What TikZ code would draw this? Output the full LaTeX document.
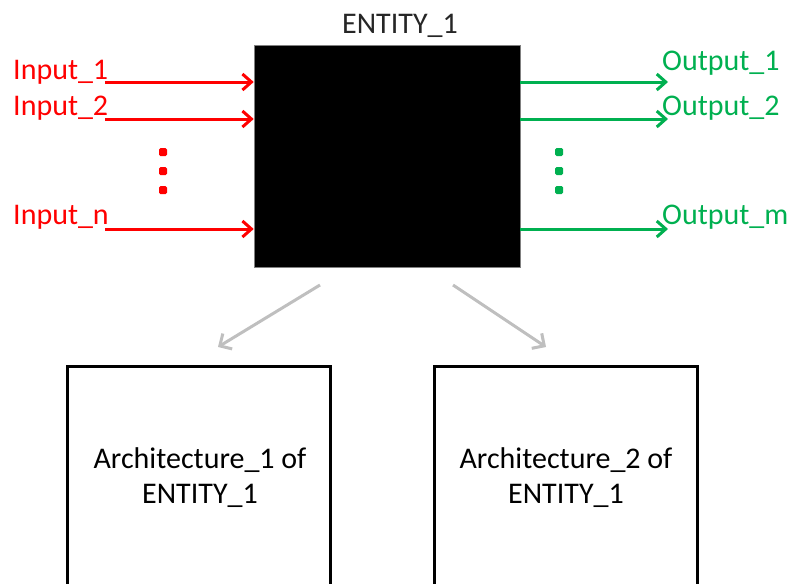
\documentclass[tikz,border=0pt]{standalone}
\usepackage{fontspec}
\setmainfont{Carlito}
\usetikzlibrary{arrows.meta}
\definecolor{inred}{RGB}{255,0,0}
\definecolor{outgreen}{RGB}{0,176,80}
\definecolor{archgray}{RGB}{191,191,191}
\tikzset{
  x=1pt, y=-1pt,
  lbl/.style={inner sep=0pt, font=\fontsize{30}{35}\selectfont},
  inarrow/.style={draw=inred, line width=3pt, -{Straight Barb[length=9pt,width=16pt,line width=3pt]}},
  outarrow/.style={draw=outgreen, line width=3pt, -{Straight Barb[length=9pt,width=16pt,line width=3pt]}},
  grayarrow/.style={draw=archgray, line width=3pt, -{Straight Barb[length=9pt,width=18pt,line width=3pt]}},
  archbox/.style={draw=black, line width=3pt, fill=white},
  dotsq/.style={fill=#1, rounded corners=1.5pt, minimum size=8pt, inner sep=0pt},
}
\begin{document}
\begin{tikzpicture}
\useasboundingbox (0,0) rectangle (793,584);
\clip (0,0) rectangle (793,584);
% entity
\node[fill=black, draw=gray, line width=0.6pt, minimum width=266pt, minimum height=222pt, inner sep=0pt] (E) at (387,156) {};
\node[lbl, anchor=base, text=black!85] (Et) at (400,33) {ENTITY\_1};
% inputs
\coordinate (i1) at (105,82);
\coordinate (i2) at (105,119);
\coordinate (in) at (105,229);
\draw[inarrow] (i1) -- (i1 -| E.west);
\draw[inarrow] (i2) -- (i2 -| E.west);
\draw[inarrow] (in) -- (in -| E.west);
\node[lbl, anchor=base west, text=inred] (l1) at (13,79) {Input\_1};
\node[lbl, anchor=base west, text=inred] (l2) at (13,115) {Input\_2};
\node[lbl, anchor=base west, text=inred] (ln) at (13,224) {Input\_n};
\node[dotsq=inred] (rd1) at (163,152) {};
\node[dotsq=inred] (rd2) at (163,171) {};
\node[dotsq=inred] (rd3) at (163,190) {};
% outputs
\coordinate (o1) at (668,82);
\coordinate (o2) at (668,119);
\coordinate (om) at (668,229);
\draw[outarrow] (o1 -| E.east) -- (o1);
\draw[outarrow] (o2 -| E.east) -- (o2);
\draw[outarrow] (om -| E.east) -- (om);
\node[lbl, anchor=base west, text=outgreen] (m1) at (662,70) {Output\_1};
\node[lbl, anchor=base west, text=outgreen] (m2) at (662,115) {Output\_2};
\node[lbl, anchor=base west, text=outgreen] (mm) at (662,224) {Output\_m};
\node[dotsq=outgreen] (gd1) at (559,152) {};
\node[dotsq=outgreen] (gd2) at (559,171) {};
\node[dotsq=outgreen] (gd3) at (559,190) {};
% architectures
\node[archbox, minimum width=263pt, minimum height=260pt, inner sep=0pt] (A1) at (198.5,496) {};
\node[archbox, minimum width=263pt, minimum height=260pt, inner sep=0pt] (A2) at (565.5,496) {};
\node[lbl, align=center, anchor=base, font=\fontsize{30}{35}\selectfont] (A1t) at (200,503) {Architecture\_1 of\\ENTITY\_1};
\node[lbl, align=center, anchor=base, font=\fontsize{30}{35}\selectfont] (A2t) at (566,503) {Architecture\_2 of\\ENTITY\_1};
\coordinate (g1s) at (320,285);
\coordinate (g1e) at (218,347);
\coordinate (g2s) at (453,285);
\coordinate (g2e) at (546,347);
\draw[grayarrow] (g1s) -- (g1e);
\draw[grayarrow] (g2s) -- (g2e);
\end{tikzpicture}
\end{document}
